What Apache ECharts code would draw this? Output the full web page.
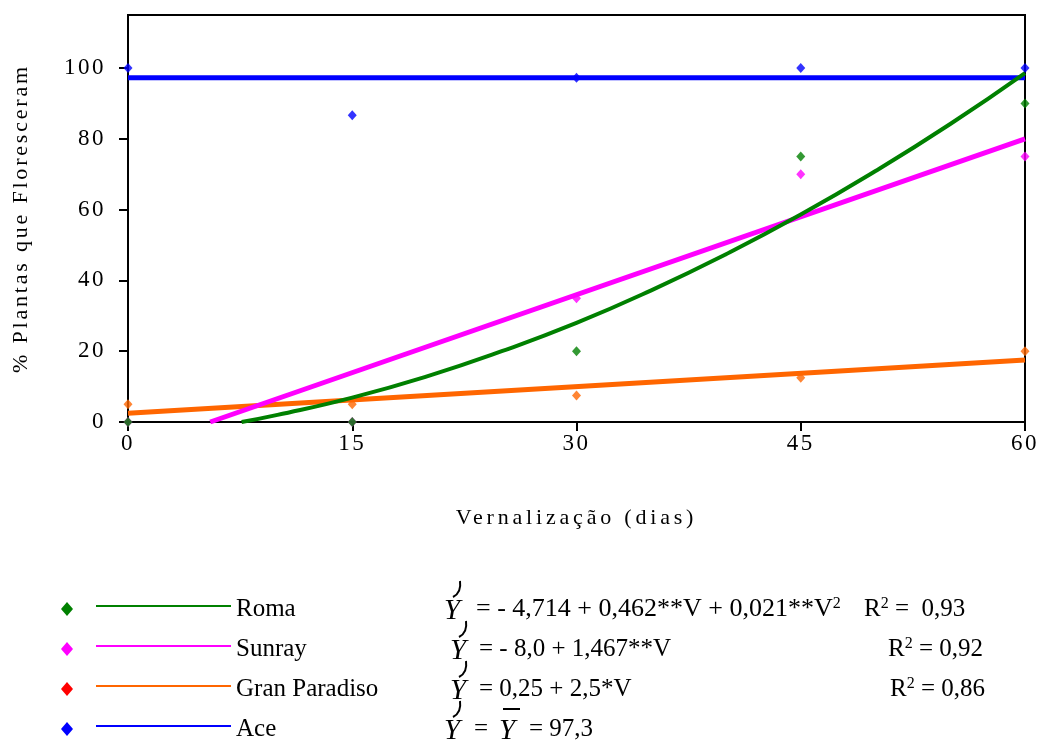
<!DOCTYPE html>
<html><head><meta charset="utf-8">
<script src="https://cdn.jsdelivr.net/npm/echarts@6/dist/echarts.min.js"></script>
<style>html,body{margin:0;padding:0;background:#fff}#c{width:1041px;height:740px}</style>
</head><body><div id="c"></div>
<script>
// ---- data ----
const xTicks = [0, 15, 30, 45, 60];
const yTicks = [0, 20, 40, 60, 80, 100];
const days = [0, 15, 30, 45, 60];
const romaObs = [0, 0, 20, 75, 90];
const sunrayObs = [0, 0, 35, 70, 75];
const granObs = [5, 5, 7.5, 12.5, 20];
const aceObs = [100, 86.7, 97.3, 100, 100];
const romaFitX = [7.6, 10, 15, 20, 25, 30, 35, 40, 45, 50, 55, 60];
const romaFitY = [0, 2, 6.9, 12.9, 20, 28, 37.2, 47.4, 58.6, 70.9, 84.2, 98.6];
const sunrayFitX = [5.5, 60];
const sunrayFitY = [0, 80];
const granFitX = [0, 60];
const granFitY = [2.5, 17.5];
const aceFitX = [0, 60];
const aceFitY = [97.3, 97.3];
const names = ['Roma', 'Sunray', 'Gran Paradiso', 'Ace'];
const equations = ['= - 4,714 + 0,462**V + 0,021**V', '= - 8,0 + 1,467**V', '= 0,25 + 2,5*V', ''];
const r2 = ['0,93', '0,92', '0,86', ''];
const xTitle = 'Vernalização (dias)';
const yTitle = '% Plantas que Floresceram';

// ---- styles ----
const C = { roma: '#008000', sunray: '#ff00ff', gran: '#ff6600', ace: '#0000ff' };
const legendDiamond = ['#008000', '#ff00ff', '#ff0000', '#0000ff'];
const legendLine = ['#008000', '#ff00ff', '#ff6600', '#0000ff'];
const FONT = '"Liberation Serif", "Times New Roman", serif';

// spaced-out axis typesetting (as in the reference)
(function () {
  const proto = CanvasRenderingContext2D.prototype;
  const orig = proto.fillText;
  const spacing = {};
  spacing[xTitle] = '3.8px';
  spacing[yTitle] = '2.8px';
  xTicks.concat(yTicks).forEach(v => { spacing[String(v)] = '2.5px'; });
  proto.fillText = function (t, x, y, w) {
    if ('letterSpacing' in this) this.letterSpacing = spacing[t] || '0px';
    return w === undefined ? orig.call(this, t, x, y) : orig.call(this, t, x, y, w);
  };
})();

const zip = (a, b) => a.map((v, i) => [v, b[i]]);

const chart = echarts.init(document.getElementById('c'), null, { renderer: 'canvas' });

function scatter(name, vals, color) {
  return { name, type: 'scatter', data: zip(days, vals), symbol: 'diamond', symbolSize: [9, 10],
    itemStyle: { color }, z: 2, silent: true };
}
function line(name, xs, ys, color, w, smooth) {
  return { name: name + ' fit', type: 'line', data: zip(xs, ys), symbol: 'none', smooth: !!smooth,
    lineStyle: { color, width: w }, z: 3, silent: true, clip: true };
}

const rowY = [609, 649, 689, 729];
const graphic = [];
rowY.forEach((y, i) => {
  graphic.push({ type: 'polygon', shape: { points: [[67, y - 7], [73, y], [67, y + 7], [61, y]] },
    style: { fill: legendDiamond[i] } });
  graphic.push({ type: 'line', shape: { x1: 96, y1: y - 3, x2: 231, y2: y - 3 },
    style: { stroke: legendLine[i], lineWidth: 2 } });
  graphic.push({ type: 'text', x: 236, y: y, style: { text: names[i], font: '25px ' + FONT,
    fill: '#000', verticalAlign: 'middle' } });
});
function hatY(x0, y, fs) {
  graphic.push({ type: 'text', x: x0, y: y + 2, style: { text: 'Y', font: 'italic ' + fs + 'px ' + FONT,
    fill: '#000', verticalAlign: 'middle' } });
  graphic.push({ type: 'bezierCurve', shape: { x1: x0 + 16, y1: y - 28, cpx1: x0 + 17, cpy1: y - 21,
    cpx2: x0 + 15, cpy2: y - 15, x2: x0 + 9, y2: y - 12 }, style: { stroke: '#000', lineWidth: 2, fill: null } });
}
const yHatX = [444, 450, 450, 444];
const eqX = [476, 479, 479, 474];
const eqFont = [26, 25, 25];
const r2X = [864, 888, 890];
const r2Text = [' =  ', ' = ', ' = '];
function rich(fs) {
  return { a: { font: fs + 'px ' + FONT, fill: '#000', lineHeight: 27 },
           s: { font: '16px ' + FONT, fill: '#000', verticalAlign: 'top', lineHeight: 27 } };
}
rowY.forEach((y, i) => {
  hatY(yHatX[i], y, 29);
  if (i < 3) {
    graphic.push({ type: 'text', x: eqX[i], y: y, style: {
      text: '{a|' + equations[i] + '}' + (i === 0 ? '{s|2}' : ''), rich: rich(eqFont[i]), verticalAlign: 'middle' } });
    graphic.push({ type: 'text', x: r2X[i], y: y, style: {
      text: '{a|R}{s|2}{a|' + r2Text[i] + r2[i] + '}', rich: rich(25), verticalAlign: 'middle' } });
  } else {
    graphic.push({ type: 'text', x: eqX[i], y: y, style: { text: '=', font: '25px ' + FONT, fill: '#000', verticalAlign: 'middle' } });
    graphic.push({ type: 'text', x: 499, y: y + 2, style: { text: 'Y', font: 'italic 29px ' + FONT, fill: '#000', verticalAlign: 'middle' } });
    graphic.push({ type: 'line', shape: { x1: 503, y1: y - 20, x2: 520, y2: y - 20 }, style: { stroke: '#000', lineWidth: 2 } });
    graphic.push({ type: 'text', x: 529, y: y, style: { text: '= 97,3', font: '25px ' + FONT, fill: '#000', verticalAlign: 'middle' } });
  }
});

chart.setOption({
  animation: false,
  backgroundColor: '#fff',
  grid: { left: 128, right: 16, top: 15, bottom: 318, show: true, borderColor: '#000', borderWidth: 2 },
  xAxis: {
    type: 'value', min: 0, max: 60, interval: 15,
    name: xTitle, nameLocation: 'middle', nameGap: 85,
    nameTextStyle: { fontFamily: FONT, fontSize: 22, color: '#000' },
    axisLine: { lineStyle: { color: '#000', width: 2 } },
    axisTick: { show: true, length: 9, lineStyle: { color: '#000', width: 2 } },
    axisLabel: { fontFamily: FONT, fontSize: 23, color: '#000', margin: 10, customValues: xTicks },
    splitLine: { show: false }
  },
  yAxis: {
    type: 'value', min: 0, max: 115, interval: 20,
    name: yTitle, nameLocation: 'middle', nameGap: 96,
    nameTextStyle: { fontFamily: FONT, fontSize: 22, color: '#000' },
    axisLine: { show: true, lineStyle: { color: '#000', width: 2 } },
    axisTick: { show: true, length: 9, lineStyle: { color: '#000', width: 2 }, customValues: yTicks },
    axisLabel: { fontFamily: FONT, fontSize: 23, color: '#000', margin: 22, customValues: yTicks },
    splitLine: { show: false }
  },
  series: [
    scatter('Ace', aceObs, C.ace),
    scatter('Gran Paradiso', granObs, C.gran),
    scatter('Sunray', sunrayObs, C.sunray),
    scatter('Roma', romaObs, C.roma),
    line('Ace', aceFitX, aceFitY, C.ace, 5),
    line('Gran Paradiso', granFitX, granFitY, C.gran, 5),
    line('Sunray', sunrayFitX, sunrayFitY, C.sunray, 5),
    line('Roma', romaFitX, romaFitY, C.roma, 4, true)
  ],
  graphic: graphic
});
</script>
</body></html>
